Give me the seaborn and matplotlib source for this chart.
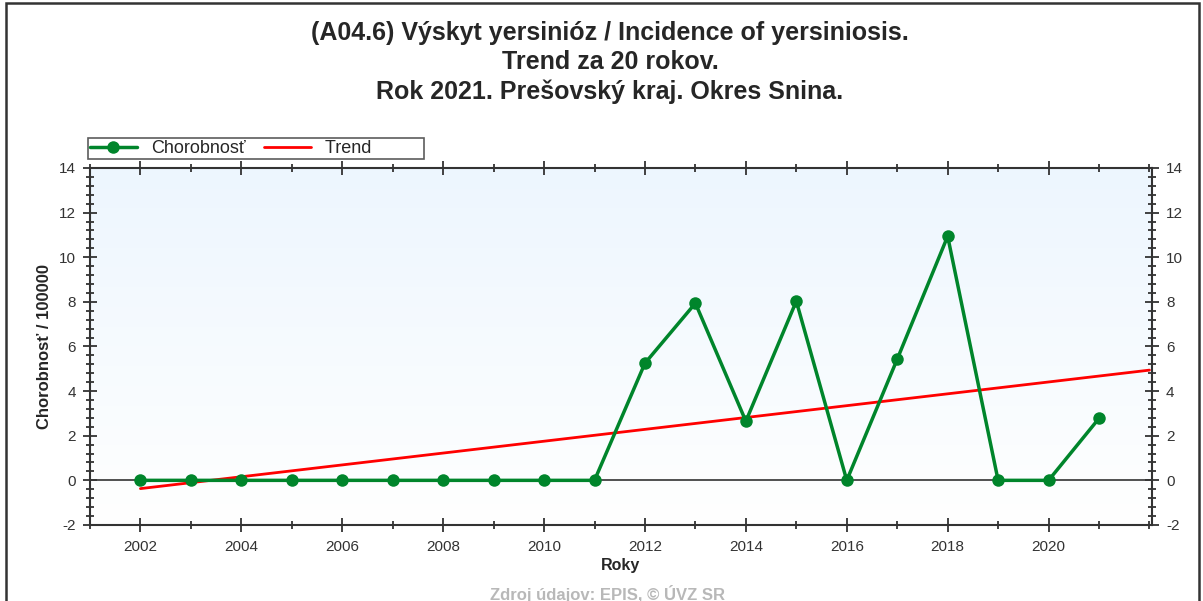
import numpy as np
import pandas as pd
import seaborn as sns
import matplotlib.pyplot as plt
from matplotlib.ticker import MultipleLocator, FixedLocator
from matplotlib.patches import Rectangle
from matplotlib.colors import LinearSegmentedColormap

# data
years = list(range(2002, 2022))
incidence = [0, 0, 0, 0, 0, 0, 0, 0, 0, 0,
             5.25, 7.94, 2.65, 8.03, 0, 5.43, 10.94, 0, 0, 2.78]
trend_years = [2002, 2022]
trend_values = [-0.37, 4.94]
year_ticks = list(range(2002, 2021, 2))

title = ("(A04.6) Výskyt yersinióz / Incidence of yersiniosis.\n"
         "Trend za 20 rokov.\n"
         "Rok 2021. Prešovský kraj. Okres Snina.")

df = pd.DataFrame({"rok": years, "chorobnost": incidence})
df_trend = pd.DataFrame({"rok": trend_years, "trend": trend_values})

sns.set_style("white")
plt.rcParams['font.family'] = ['Liberation Sans', 'DejaVu Sans']
plt.rcParams['axes.unicode_minus'] = False

fig = plt.figure(figsize=(12.03, 6.01), dpi=100)
ax = fig.add_axes([0.0748, 0.1265, 0.8828, 0.594])

# frame around the whole picture
fig.patches.append(Rectangle((0.005, -0.1), 0.992, 1.095, transform=fig.transFigure,
                             fill=False, edgecolor='#333333', linewidth=1.8))

# light blue gradient background
grad = np.linspace(1, 0, 256).reshape(-1, 1)
cmap = LinearSegmentedColormap.from_list("bg", ["#ffffff", "#edf6fe"])
ax.imshow(grad, cmap=cmap, aspect='auto', extent=[0, 1, 0, 1],
          transform=ax.transAxes, zorder=0)

ax.axhline(0, color='#333333', linewidth=1.2, zorder=1)

sns.lineplot(data=df_trend, x="rok", y="trend", ax=ax, color='#ff0000',
             linewidth=2, label="Trend", zorder=3)
sns.lineplot(data=df, x="rok", y="chorobnost", ax=ax, color='#00852b',
             linewidth=2.5, marker='o', markersize=9, markeredgewidth=0,
             label="Chorobnosť", zorder=4)

ax.set_xlim(2001, 2022.05)
ax.set_ylim(-2, 14)
ax.xaxis.set_major_locator(FixedLocator(year_ticks))
ax.xaxis.set_minor_locator(MultipleLocator(1))
ax.yaxis.set_major_locator(MultipleLocator(2))
ax.yaxis.set_minor_locator(MultipleLocator(0.4))

for s in ax.spines.values():
    s.set_color('#333333')
    s.set_linewidth(1.5)

ax.tick_params(axis='both', which='both', color='#333333', width=1.3,
               labelsize=11, labelcolor='#333333')
ax.tick_params(axis='y', which='major', direction='inout', length=10,
               left=True, right=True, labelleft=True, labelright=True, pad=5)
ax.tick_params(axis='y', which='minor', direction='inout', length=6,
               left=True, right=True)
ax.tick_params(axis='x', which='major', direction='inout', length=10,
               bottom=True, top=True, pad=6)
ax.tick_params(axis='x', which='minor', direction='inout', length=6,
               bottom=True, top=True)

ax.set_xlabel("Roky", fontsize=11.5, fontweight='bold', labelpad=3)
ax.set_ylabel("Chorobnosť / 100000", fontsize=12, fontweight='bold', labelpad=5)

handles, labels = ax.get_legend_handles_labels()
order = [labels.index("Chorobnosť"), labels.index("Trend")]
leg = ax.legend([handles[i] for i in order], ["Chorobnosť", "Trend          "],
                loc='lower left', bbox_to_anchor=(-0.002, 1.025), ncol=2,
                frameon=True, fancybox=False, fontsize=13,
                borderpad=0.12, handlelength=2.6, handletextpad=0.8,
                columnspacing=1.0, borderaxespad=0)
leg.get_frame().set_edgecolor('#333333')
leg.get_frame().set_linewidth(1.2)

fig.text(0.507, 0.965, title, ha='center', va='top', fontsize=18,
         fontweight='bold', linespacing=1.28)
fig.text(0.505, 0.012, "Zdroj údajov: EPIS, © ÚVZ SR", ha='center', va='center',
         fontsize=12, fontweight='bold', color='#b8b8b8')

fig.savefig("out.png", dpi=100)
